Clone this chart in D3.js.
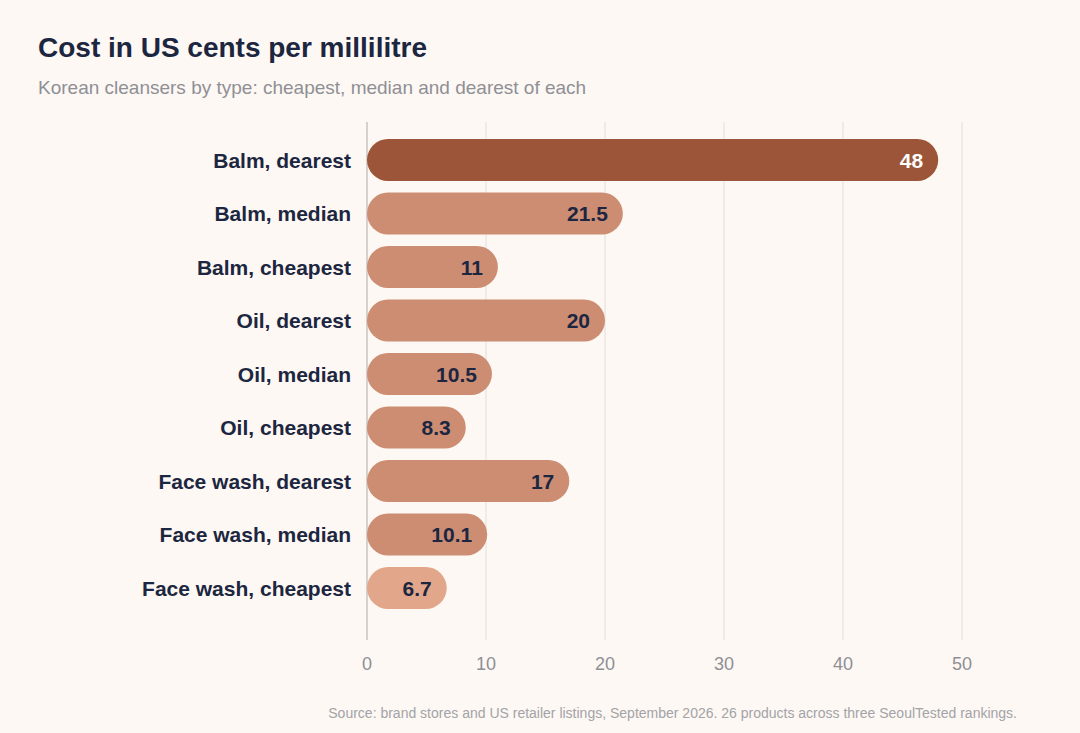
<!DOCTYPE html>
<html>
<head>
<meta charset="utf-8">
<script src="https://cdn.jsdelivr.net/npm/d3@7"></script>
<style>
  body { margin: 0; background: #fdf8f3; }
  svg { font-family: "Liberation Sans", Arial, sans-serif; }
</style>
</head>
<body>
<svg id="chart"></svg>
<script>
const WIDTH = 1080;
const HEIGHT = 733;

const labels = [
  "Balm, dearest", "Balm, median", "Balm, cheapest",
  "Oil, dearest", "Oil, median", "Oil, cheapest",
  "Face wash, dearest", "Face wash, median", "Face wash, cheapest"
];
const values = [48, 21.5, 11, 20, 10.5, 8.3, 17, 10.1, 6.7];
const valueText = ["48", "21.5", "11", "20", "10.5", "8.3", "17", "10.1", "6.7"];
const ticks = [0, 10, 20, 30, 40, 50];

const data = labels.map((label, i) => ({ label, value: values[i], text: valueText[i] }));

const svg = d3.select("#chart").attr("width", WIDTH).attr("height", HEIGHT);

const x = d3.scaleLinear().domain([0, 50]).range([367, 962]);
const y = d3.scaleBand()
  .domain(labels)
  .range([139, 609])
  .paddingInner(0.215)
  .paddingOuter(0);

// title
svg.append("text").attr("x", 38).attr("y", 57)
  .attr("font-size", 28).attr("font-weight", 700).attr("fill", "#1c2640")
  .text("Cost in US cents per millilitre");
svg.append("text").attr("x", 38).attr("y", 94)
  .attr("font-size", 19).attr("fill", "#8f8f96")
  .text("Korean cleansers by type: cheapest, median and dearest of each");

// grid
svg.append("g").selectAll("line").data(ticks.slice(1)).join("line")
  .attr("x1", (d) => x(d)).attr("x2", (d) => x(d))
  .attr("y1", 122).attr("y2", 640)
  .attr("stroke", "#ede7e0").attr("stroke-width", 1.5);

svg.append("line").attr("x1", x(0)).attr("x2", x(0)).attr("y1", 122).attr("y2", 640)
  .attr("stroke", "#c9c5c1").attr("stroke-width", 1.5);

// tick labels
svg.append("g").selectAll("text").data(ticks).join("text")
  .attr("x", (d) => x(d)).attr("y", 670)
  .attr("text-anchor", "middle").attr("font-size", 18).attr("fill", "#8f8f96")
  .text((d) => d);

const color = (d, i) => i === 0 ? "#9c5538" : (i === labels.length - 1 ? "#e2a78a" : "#cc8d73");

const r = y.bandwidth() / 2;
svg.append("g").selectAll("rect").data(data).join("rect")
  .attr("x", x(0))
  .attr("y", (d) => y(d.label))
  .attr("width", (d) => x(d.value) - x(0))
  .attr("height", y.bandwidth())
  .attr("rx", r).attr("ry", r)
  .attr("fill", (d, i) => color(d, i));

svg.append("g").selectAll("text").data(data).join("text")
  .attr("x", (d) => x(d.value) - 15)
  .attr("y", (d) => y(d.label) + r)
  .attr("dy", "0.36em")
  .attr("text-anchor", "end").attr("font-size", 21).attr("font-weight", 700)
  .attr("fill", (d, i) => i === 0 ? "#ffffff" : "#1c2640")
  .text((d) => d.text);

svg.append("g").selectAll("text").data(data).join("text")
  .attr("x", 351)
  .attr("y", (d) => y(d.label) + r)
  .attr("dy", "0.36em")
  .attr("text-anchor", "end").attr("font-size", 21).attr("font-weight", 700)
  .attr("fill", "#1c2640")
  .text((d) => d.label);

svg.append("text").attr("x", 1017).attr("y", 718)
  .attr("text-anchor", "end").attr("font-size", 14).attr("fill", "#a3a3a8")
  .text("Source: brand stores and US retailer listings, September 2026. 26 products across three SeoulTested rankings.");
</script>
</body>
</html>
